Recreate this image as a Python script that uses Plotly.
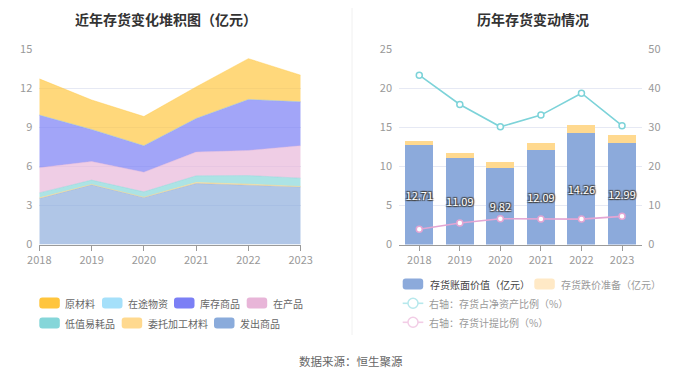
import plotly.graph_objects as go

W, H = 700, 378
FONT = "Noto Sans CJK SC"

years = [2018, 2019, 2020, 2021, 2022, 2023]
year_labels = ["2018", "2019", "2020", "2021", "2022", "2023"]

# Left chart: stacked inventory composition (亿元), bottom to top
fachu = [3.53, 4.58, 3.61, 4.68, 4.55, 4.42]        # 发出商品
weituo = [0.05, 0.03, 0.02, 0.08, 0.08, 0.03]       # 委托加工材料
dizhi = [0.38, 0.33, 0.41, 0.51, 0.66, 0.64]        # 低值易耗品
zaichan = [1.93, 1.43, 1.51, 1.82, 1.93, 2.49]      # 在产品
kucun = [4.04, 2.46, 2.03, 2.58, 3.91, 3.37]        # 库存商品
zaitu = [0.0, 0.0, 0.0, 0.0, 0.0, 0.0]              # 在途物资
yuancl = [2.78, 2.26, 2.24, 2.42, 3.13, 2.04]       # 原材料

# Right chart
book_value = [12.71, 11.09, 9.82, 12.09, 14.26, 12.99]   # 存货账面价值
provision = [0.52, 0.65, 0.69, 0.84, 0.99, 1.01]         # 存货跌价准备
net_asset_ratio = [43.3, 35.8, 30.1, 33.1, 38.7, 30.4]   # 存货占净资产比例
provision_ratio = [3.9, 5.5, 6.6, 6.5, 6.5, 7.2]         # 存货计提比例

left_ticks = [0, 3, 6, 9, 12, 15]
right_ticks = [0, 5, 10, 15, 20, 25]
right2_ticks = [0, 10, 20, 30, 40, 50]

layers = [
    ("发出商品", fachu, "#8AABDB", "rgba(138,171,219,0.68)"),
    ("委托加工材料", weituo, "#FFD98F", "rgba(255,217,143,0.9)"),
    ("低值易耗品", dizhi, "#85D6D9", "rgba(133,214,217,0.68)"),
    ("在产品", zaichan, "#E8B5D8", "rgba(232,181,216,0.68)"),
    ("库存商品", kucun, "#7B7FF5", "rgba(123,127,245,0.7)"),
    ("在途物资", zaitu, "#A5E0FA", "rgba(165,224,250,0.7)"),
    ("原材料", yuancl, "#FFC53D", "rgba(255,197,61,0.68)"),
]

# The page body has an 8px margin, so compensate for it
OFF = 8

def px(x):
    return (x - OFF) / W

def py(y):
    return 1 - (y - OFF) / H

fig = go.Figure()

for name, vals, col, fillc in layers:
    fig.add_trace(go.Scatter(
        x=years, y=vals, name=name, stackgroup="inv", mode="lines",
        line=dict(width=0.6, color=fillc), fillcolor=fillc,
        xaxis="x", yaxis="y", showlegend=False,
    ))

fig.add_trace(go.Bar(
    x=year_labels, y=book_value, name="存货账面价值（亿元）",
    marker=dict(color="#8CAADB", line=dict(width=0)),
    texttemplate="%{y:.2f}", textposition="inside", insidetextanchor="middle",
    textangle=0,
    textfont=dict(color="white", size=11, family=FONT,
                  shadow="1px 1px 1px #444, -1px -1px 1px #444, 1px -1px 1px #444, -1px 1px 1px #444"),
    constraintext="none",
    xaxis="x2", yaxis="y2", showlegend=False,
))
fig.add_trace(go.Bar(
    x=year_labels, y=provision, name="存货跌价准备（亿元）",
    marker=dict(color="#FFD98F", line=dict(width=0)),
    xaxis="x2", yaxis="y2", showlegend=False,
))
fig.add_trace(go.Scatter(
    x=year_labels, y=net_asset_ratio, name="右轴：存货占净资产比例（%）",
    mode="lines+markers", line=dict(color="#7DD3D9", width=1.6),
    marker=dict(symbol="circle", size=6, color="white", line=dict(color="#7DD3D9", width=1.5)),
    xaxis="x2", yaxis="y3", showlegend=False,
))
fig.add_trace(go.Scatter(
    x=year_labels, y=provision_ratio, name="右轴：存货计提比例（%）",
    mode="lines+markers", line=dict(color="#E3A5D3", width=1.6),
    marker=dict(symbol="circle", size=6, color="white", line=dict(color="#E3A5D3", width=1.5)),
    xaxis="x2", yaxis="y3", showlegend=False,
))

ydom = [py(244.5), py(49)]
axis_font = dict(family=FONT, size=11, color="#999999")
grid = "#E6E9F4"

fig.update_layout(
    template="none",
    width=W, height=H, margin=dict(l=0, r=0, t=0, b=0, autoexpand=False),
    paper_bgcolor="white", plot_bgcolor="white",
    font=dict(family=FONT),
    barmode="stack", bargap=0.31,
    xaxis=dict(domain=[px(39.3), px(300.7)], range=[2018, 2023], tickmode="array",
               tickvals=years, ticktext=year_labels, showline=True, linecolor="#9A9A9A",
               ticks="outside", ticklen=5, tickcolor="#9A9A9A", showgrid=False,
               zeroline=False, tickfont=axis_font, anchor="y", automargin=False),
    yaxis=dict(domain=ydom, range=[0, 15], tickvals=left_ticks, gridcolor=grid,
               showline=False, zeroline=False, tickfont=axis_font, ticklabelstandoff=6,
               ticks="", anchor="x", automargin=False),
    xaxis2=dict(domain=[px(399), px(642.3)], type="category", showline=True,
                linecolor="#9A9A9A", ticks="outside", ticklen=5, tickcolor="#9A9A9A",
                showgrid=False, zeroline=False, tickfont=axis_font, anchor="y2",
                automargin=False),
    yaxis2=dict(domain=ydom, range=[0, 25], tickvals=right_ticks, gridcolor=grid,
                showline=False, zeroline=False, tickfont=axis_font, ticklabelstandoff=6,
                ticks="", anchor="x2", automargin=False),
    yaxis3=dict(domain=ydom, range=[0, 50], tickvals=right2_ticks, overlaying="y2",
                side="right", showgrid=False, showline=False, zeroline=False,
                tickfont=axis_font, ticklabelstandoff=5, ticks="", anchor="x2",
                automargin=False),
)

shapes = []
annos = []

# Divider
shapes.append(dict(type="line", xref="paper", yref="paper", x0=px(352), x1=px(352),
                   y0=py(8), y1=py(335), line=dict(color="#F0F0F0", width=1)))

# Titles
annos.append(dict(text="<b>近年存货变化堆积图（亿元）</b>", x=px(166), y=py(8), xref="paper", yref="paper",
                  showarrow=False, font=dict(family=FONT, size=14, color="#333333"),
                  xanchor="center", yanchor="top", borderpad=0))
annos.append(dict(text="<b>历年存货变动情况</b>", x=px(533), y=py(8), xref="paper", yref="paper",
                  showarrow=False, font=dict(family=FONT, size=14, color="#333333"),
                  xanchor="center", yanchor="top", borderpad=0))
annos.append(dict(text="数据来源：恒生聚源", x=px(351), y=py(361), xref="paper", yref="paper",
                  showarrow=False, font=dict(family=FONT, size=11.5, color="#666666"),
                  xanchor="center", yanchor="middle"))

def rrect(x0, y0, w, h, r, color):
    # rounded rectangle in pixel coords -> paper path
    X = lambda v: px(v)
    Y = lambda v: py(v)
    x1, y1 = x0 + w, y0 + h
    p = (f"M {X(x0+r)} {Y(y0)} L {X(x1-r)} {Y(y0)} Q {X(x1)} {Y(y0)} {X(x1)} {Y(y0+r)} "
         f"L {X(x1)} {Y(y1-r)} Q {X(x1)} {Y(y1)} {X(x1-r)} {Y(y1)} "
         f"L {X(x0+r)} {Y(y1)} Q {X(x0)} {Y(y1)} {X(x0)} {Y(y1-r)} "
         f"L {X(x0)} {Y(y0+r)} Q {X(x0)} {Y(y0)} {X(x0+r)} {Y(y0)} Z")
    return dict(type="path", xref="paper", yref="paper", path=p,
                fillcolor=color, line=dict(width=0))

LEG = 10
leg_font = dict(family=FONT, size=LEG, color="#666666")
colmap = {name: col for name, _, col, _ in layers}
left_legend = [
    ("原材料", 39.3, 303), ("在途物资", 102, 303), ("库存商品", 174, 303), ("在产品", 246.7, 303),
    ("低值易耗品", 39.3, 323), ("委托加工材料", 121.7, 323), ("发出商品", 214, 323),
]
for name, x0, yc in left_legend:
    shapes.append(rrect(x0, yc - 5.5, 20.5, 11, 3, colmap[name]))
    annos.append(dict(text=name, x=px(x0 + 24), y=py(yc), xref="paper", yref="paper",
                      showarrow=False, font=leg_font, xanchor="left", yanchor="middle"))

# Right legend
shapes.append(rrect(402.7, 284 - 5.5, 20.5, 11, 3, "#8CAADB"))
annos.append(dict(text="存货账面价值（亿元）", x=px(427.5), y=py(284), xref="paper", yref="paper",
                  showarrow=False, font=dict(family=FONT, size=LEG, color="#444444"),
                  xanchor="left", yanchor="middle"))
shapes.append(rrect(534.3, 284 - 5.5, 20.5, 11, 3, "#FFE9C6"))
annos.append(dict(text="存货跌价准备（亿元）", x=px(559), y=py(284), xref="paper", yref="paper",
                  showarrow=False, font=dict(family=FONT, size=LEG, color="#9A9A9A"),
                  xanchor="left", yanchor="middle"))
for label, yc, col in [("右轴：存货占净资产比例（%）", 303.3, "#B7E8EC"),
                       ("右轴：存货计提比例（%）", 322.3, "#F2CDE6")]:
    shapes.append(dict(type="line", xref="paper", yref="paper", x0=px(402.7), x1=px(423.3),
                       y0=py(yc), y1=py(yc), line=dict(color=col, width=1.6)))
    shapes.append(dict(type="circle", xref="paper", yref="paper", x0=px(408), x1=px(418),
                       y0=py(yc + 5), y1=py(yc - 5), fillcolor="white",
                       line=dict(color=col, width=1.5)))
    annos.append(dict(text=label, x=px(427), y=py(yc), xref="paper", yref="paper",
                      showarrow=False, font=dict(family=FONT, size=LEG, color="#9A9A9A"),
                      xanchor="left", yanchor="middle"))

fig.update_layout(shapes=shapes, annotations=annos)
fig.write_html("out.html")
